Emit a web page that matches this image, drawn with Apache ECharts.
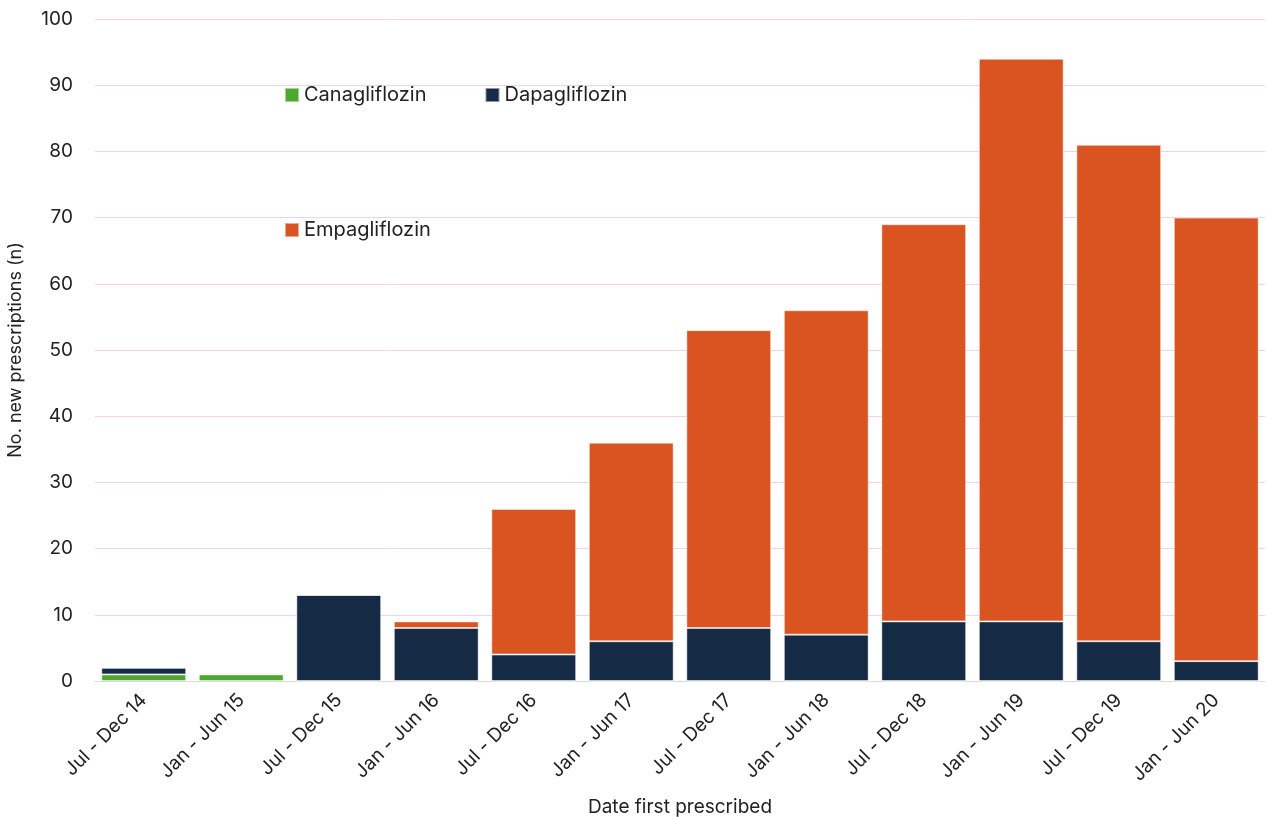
<!DOCTYPE html>
<html>
<head>
<meta charset="utf-8">
<script src="https://cdn.jsdelivr.net/npm/echarts@6/dist/echarts.min.js"></script>
<style>
  html, body { margin: 0; padding: 0; background: #fff; }
  #chart { width: 1266px; height: 817px; }
</style>
</head>
<body>
<div id="chart"></div>
<script>
const categories = ['Jul - Dec 14', 'Jan - Jun 15', 'Jul - Dec 15', 'Jan - Jun 16', 'Jul - Dec 16', 'Jan - Jun 17',
  'Jul - Dec 17', 'Jan - Jun 18', 'Jul - Dec 18', 'Jan - Jun 19', 'Jul - Dec 19', 'Jan - Jun 20']
const canagliflozin = [1, 1, 0, 0, 0, 0, 0, 0, 0, 0, 0, 0]
const dapagliflozin = [1, 0, 13, 8, 4, 6, 8, 7, 9, 9, 6, 3]
const empagliflozin = [0, 0, 0, 1, 22, 30, 45, 49, 60, 85, 75, 67]

const fontFamily = 'Inter, "Noto Sans", sans-serif'
const chart = echarts.init(document.getElementById('chart'))

const legendBase = {
  orient: 'horizontal',
  icon: 'rect',
  itemWidth: 14,
  itemHeight: 14,
  itemGap: 58,
  textStyle: { fontFamily, fontSize: 20, color: '#222' }
}

const bar = (name, data, color) => ({
  name,
  type: 'bar',
  stack: 'total',
  data,
  barCategoryGap: '13%',
  itemStyle: { color, borderColor: 'rgba(255,255,255,0.5)', borderWidth: 1 }
})

chart.setOption({
  animation: false,
  textStyle: { fontFamily },
  legend: [
    Object.assign({}, legendBase, { left: 279, top: 80, data: ['Canagliflozin', 'Dapagliflozin'] }),
    Object.assign({}, legendBase, { left: 279, top: 215, data: ['Empagliflozin'] })
  ],
  grid: { left: 95, right: 1, top: 19, bottom: 136, containLabel: false, outerBoundsMode: 'none' },
  xAxis: {
    type: 'category',
    data: categories,
    name: 'Date first prescribed',
    nameLocation: 'middle',
    nameGap: 117,
    nameTextStyle: { fontSize: 19, color: '#222', fontFamily },
    axisLine: { lineStyle: { color: '#d9d9d9' } },
    axisTick: { show: false },
    axisLabel: { rotate: 45, fontSize: 19, color: '#222', margin: 16, interval: 0 }
  },
  yAxis: {
    type: 'value',
    min: 0,
    max: 100,
    interval: 10,
    name: 'No. new prescriptions (n)',
    nameLocation: 'middle',
    nameGap: 70,
    nameTextStyle: { fontSize: 18, color: '#222', fontFamily },
    axisLine: { show: false },
    axisTick: { show: false },
    axisLabel: { fontSize: 19, color: '#222', margin: 22 },
    splitLine: { lineStyle: { color: '#f2d0ee' } }
  },
  series: [
    bar('Canagliflozin', canagliflozin, '#4ea72e'),
    bar('Dapagliflozin', dapagliflozin, '#152a45'),
    bar('Empagliflozin', empagliflozin, '#d95421')
  ]
})
</script>
</body>
</html>
